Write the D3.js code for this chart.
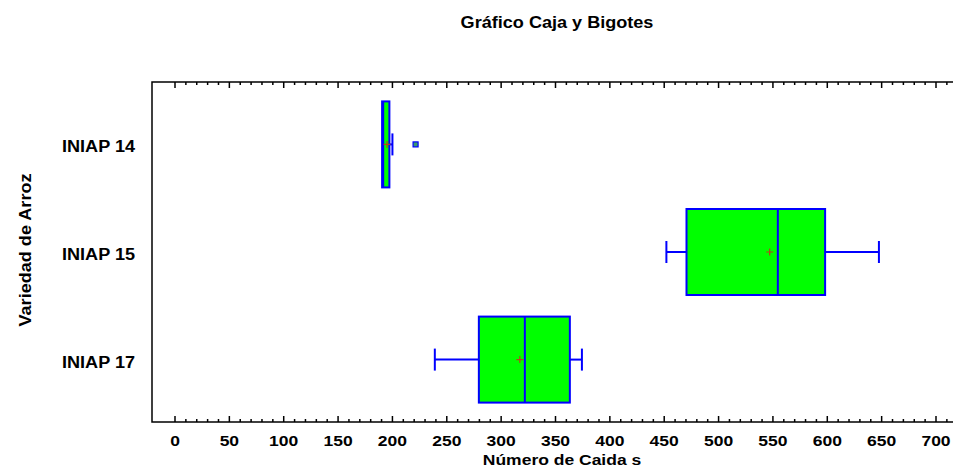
<!DOCTYPE html>
<html><head><meta charset="utf-8">
<script src="https://cdn.jsdelivr.net/npm/d3@7"></script>
<style>body{margin:0;background:#fff}text{font-family:"Liberation Sans",Arial,sans-serif;font-weight:bold;fill:#000}</style>
</head><body>
<svg id="c" width="953" height="472"></svg>
<script>
const categories = ["INIAP 14", "INIAP 15", "INIAP 17"];
const mins    = [191.5, 452, 239];
const q1s     = [190.5, 470.5, 279.5];
const medians = [191.5, 554.5, 321.8];
const q3s     = [197.2, 598, 363.2];
const maxs    = [200, 647.5, 374.3];
const means   = [195, 547, 317.2];
const outliers = [[221.3], [], []];
const xTicks = d3.range(0, 701, 50);
const minorTicks = d3.range(0, 716, 10);

const svg = d3.select("#c");
const L = 152, T = 82, B = 422, R = 953;
const SX = 1.13;
const x = d3.scaleLinear().domain([0, 700]).range([175, 936]);
const y = d3.scalePoint().domain(categories).range([T, B]).padding(0.58);

function txt(g, s, px, py, anchor, rot, fs) {
  return g.append("text").text(s).attr("font-size", fs || 16).attr("text-anchor", anchor)
    .attr("transform", `translate(${px},${py})${rot ? " rotate(" + rot + ")" : ""} scale(${SX},1)`);
}

// frame
svg.append("path").attr("d", `M${R},${T}H${L}V${B}H${R}`).attr("fill", "none").attr("stroke", "#000").attr("stroke-width", 1.5);

// ticks
const tg = svg.append("g").attr("stroke", "#000").attr("stroke-width", 1.5);
minorTicks.filter(v => v % 50 !== 0).forEach(v => {
  tg.append("line").attr("x1", x(v)).attr("x2", x(v)).attr("y1", B).attr("y2", B - 3);
  tg.append("line").attr("x1", x(v)).attr("x2", x(v)).attr("y1", T).attr("y2", T + 3);
});
xTicks.forEach(v => {
  tg.append("line").attr("x1", x(v)).attr("x2", x(v)).attr("y1", B).attr("y2", B - 6);
  tg.append("line").attr("x1", x(v)).attr("x2", x(v)).attr("y1", T).attr("y2", T + 6);
});

// tick labels
const lg = svg.append("g");
xTicks.forEach(v => txt(lg, String(v), x(v), 446, "middle", 0, 15.5));

// category labels
categories.forEach(c => txt(lg, c, 135, y(c) + 8, "end", 0, 16));

// titles
txt(lg, "Gráfico Caja y Bigotes", 557, 28, "middle", 0, 16);
txt(lg, "Número de Caida s", 562, 465, "middle", 0, 15.5);
txt(lg, "Variedad de Arroz", 31, 250, "middle", -90, 16);

// boxes
const blue = "#0000ff";
const bh = 43, ch = 11;
const bg = svg.append("g");
categories.forEach((c, i) => {
  const cy = y(c);
  bg.append("line").attr("x1", x(mins[i])).attr("x2", x(q1s[i])).attr("y1", cy).attr("y2", cy).attr("stroke", blue).attr("stroke-width", 2);
  bg.append("line").attr("x1", x(q3s[i])).attr("x2", x(maxs[i])).attr("y1", cy).attr("y2", cy).attr("stroke", blue).attr("stroke-width", 2);
  bg.append("line").attr("x1", x(mins[i])).attr("x2", x(mins[i])).attr("y1", cy - ch).attr("y2", cy + ch).attr("stroke", blue).attr("stroke-width", 2);
  bg.append("line").attr("x1", x(maxs[i])).attr("x2", x(maxs[i])).attr("y1", cy - ch).attr("y2", cy + ch).attr("stroke", blue).attr("stroke-width", 2);
  bg.append("rect").attr("x", x(q1s[i])).attr("y", cy - bh).attr("width", x(q3s[i]) - x(q1s[i])).attr("height", 2 * bh)
    .attr("fill", "#00ff00").attr("stroke", blue).attr("stroke-width", 2);
  bg.append("line").attr("x1", x(medians[i])).attr("x2", x(medians[i])).attr("y1", cy - bh).attr("y2", cy + bh).attr("stroke", blue).attr("stroke-width", 2);
  const mx = x(means[i]);
  bg.append("path").attr("d", `M${mx - 3.5},${cy}H${mx + 3.5}M${mx},${cy - 3.5}V${cy + 3.5}`).attr("stroke", "#b5451b").attr("stroke-width", 1.2);
  outliers[i].forEach(o => {
    bg.append("rect").attr("x", x(o) - 2.5).attr("y", cy - 2.5).attr("width", 5).attr("height", 5)
      .attr("fill", "#3a9a6a").attr("stroke", blue).attr("stroke-width", 1.2);
  });
});
</script>
</body></html>
